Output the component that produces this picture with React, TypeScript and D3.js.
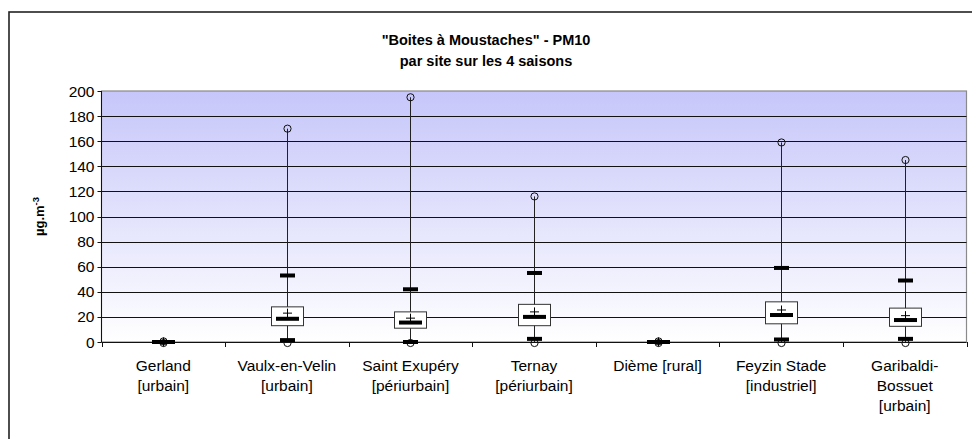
import * as d3 from 'd3';
import * as React from 'react';

// site labels, one entry per line of the category label
const sites: string[][] = [
  ['Gerland', '[urbain]'],
  ['Vaulx-en-Velin', '[urbain]'],
  ['Saint Exupéry', '[périurbain]'],
  ['Ternay', '[périurbain]'],
  ['Dième [rural]'],
  ['Feyzin Stade', '[industriel]'],
  ['Garibaldi-', 'Bossuet', '[urbain]'],
];

// PM10 statistics per site (µg.m-3)
const maxVals = [0.5, 170, 195, 116, 0.5, 159, 145];
const p95Vals = [0, 53, 42, 55, 0, 59, 49];
const q3Vals = [0, 28, 24, 30, 0, 32, 27];
const meanVals = [0, 23, 19, 24, 0, 25.5, 21];
const medianVals = [0, 18.5, 15.5, 20, 0, 21.5, 17.5];
const q1Vals = [0, 13, 11, 13, 0, 14.5, 12.5];
const p5Vals = [0, 1.5, 0, 2.5, 0, 2, 2.5];
const minVals = [0, 0, 0, 0, 0, 0, 0];

const yTicks = [0, 20, 40, 60, 80, 100, 120, 140, 160, 180, 200];

const W = 972;
const H = 439;
const plot = { left: 101.5, right: 966.5, top: 91, bottom: 342 };
const FONT = '"Liberation Sans", Arial, sans-serif';

const App = () => {
  const x = d3.scaleBand<number>()
    .domain(d3.range(sites.length))
    .range([plot.left, plot.right]);
  const y = d3.scaleLinear().domain([0, 200]).range([plot.bottom, plot.top]);

  const boxW = 32;
  const medW = 23;
  const dashW = 15;
  const thick = 4;

  return (
    <svg width={W} height={H} style={{ position: 'absolute', left: 0, top: 0, background: '#fff' }}
      fontFamily={FONT}>
      <defs>
        <linearGradient id='bg' x1='0' y1='0' x2='0' y2='1'>
          <stop offset='0' stopColor='#c6c6fa' />
          <stop offset='1' stopColor='#ffffff' />
        </linearGradient>
      </defs>

      {/* outer chart frame */}
      <rect x={9} y={12} width={W + 20} height={H + 20} fill='none' stroke='#222' strokeWidth={1.6} />

      <text x={486} y={45} textAnchor='middle' fontSize={14.5} fontWeight='bold'>"Boites à Moustaches" - PM10</text>
      <text x={486} y={66} textAnchor='middle' fontSize={14.5} fontWeight='bold'>par site sur les 4 saisons</text>

      {/* plot background */}
      <rect x={plot.left} y={plot.top} width={plot.right - plot.left} height={plot.bottom - plot.top}
        fill='url(#bg)' stroke='#8a8a8a' strokeWidth={1.2} />

      {yTicks.filter(t => t > 0 && t < 200).map(t => (
        <line key={t} x1={plot.left} x2={plot.right} y1={Math.round(y(t)) + 0.5} y2={Math.round(y(t)) + 0.5}
          stroke='#111' strokeWidth={1} />
      ))}

      {/* y axis */}
      <line x1={plot.left} x2={plot.left} y1={plot.top} y2={plot.bottom} stroke='#111' />
      {yTicks.map(t => (
        <g key={t}>
          <line x1={plot.left - 4} x2={plot.left} y1={Math.round(y(t)) + 0.5} y2={Math.round(y(t)) + 0.5} stroke='#111' />
          <text x={plot.left - 7} y={y(t) + 5.5} textAnchor='end' fontSize={15.5}>{t}</text>
        </g>
      ))}
      <text transform={`translate(44, ${(plot.top + plot.bottom) / 2}) rotate(-90)`} textAnchor='middle'
        fontSize={13} fontWeight='bold'>
        µg.m<tspan dy={-5} fontSize={9.5}>-3</tspan>
      </text>

      {/* x axis */}
      <line x1={plot.left} x2={plot.right} y1={plot.bottom + 0.5} y2={plot.bottom + 0.5} stroke='#111' />
      {d3.range(sites.length + 1).map(i => {
        const xx = Math.round(plot.left + i * x.step()) + 0.5;
        return <line key={i} x1={xx} x2={xx} y1={plot.bottom} y2={plot.bottom + 5} stroke='#111' />;
      })}
      {sites.map((lines, i) => (
        <text key={i} x={x(i)! + x.bandwidth() / 2} y={371} textAnchor='middle' fontSize={15.5}>
          {lines.map((l, j) => (
            <tspan key={j} x={x(i)! + x.bandwidth() / 2} dy={j === 0 ? 0 : 20}>{l}</tspan>
          ))}
        </text>
      ))}

      {/* boxes */}
      {sites.map((_, i) => {
        const cx = Math.round(x(i)! + x.bandwidth() / 2) + 0.5;
        return (
          <g key={i}>
            <line x1={cx} x2={cx} y1={y(minVals[i])} y2={y(maxVals[i])} stroke='#222' strokeWidth={1} />
            <circle cx={cx} cy={y(minVals[i]) + 1} r={3.6} fill='none' stroke='#111' strokeWidth={1} />
            <circle cx={cx} cy={y(maxVals[i])} r={3.6} fill='none' stroke='#111' strokeWidth={1} />
            <rect x={cx - dashW / 2} y={y(p95Vals[i]) - thick / 2} width={dashW} height={thick} fill='#000' />
            <rect x={cx - dashW / 2} y={y(p5Vals[i]) - thick / 2} width={dashW} height={thick} fill='#000' />
            <rect x={cx - boxW / 2} y={y(q3Vals[i])} width={boxW} height={y(q1Vals[i]) - y(q3Vals[i])}
              fill='#fff' stroke='#333' strokeWidth={1} />
            <rect x={cx - medW / 2} y={y(medianVals[i]) - thick / 2} width={medW} height={thick} fill='#000' />
            <line x1={cx - 4.5} x2={cx + 4.5} y1={y(meanVals[i])} y2={y(meanVals[i])} stroke='#000' />
            <line x1={cx} x2={cx} y1={y(meanVals[i]) - 4.5} y2={y(meanVals[i]) + 4.5} stroke='#000' />
          </g>
        );
      })}
    </svg>
  );
};

export default App;
